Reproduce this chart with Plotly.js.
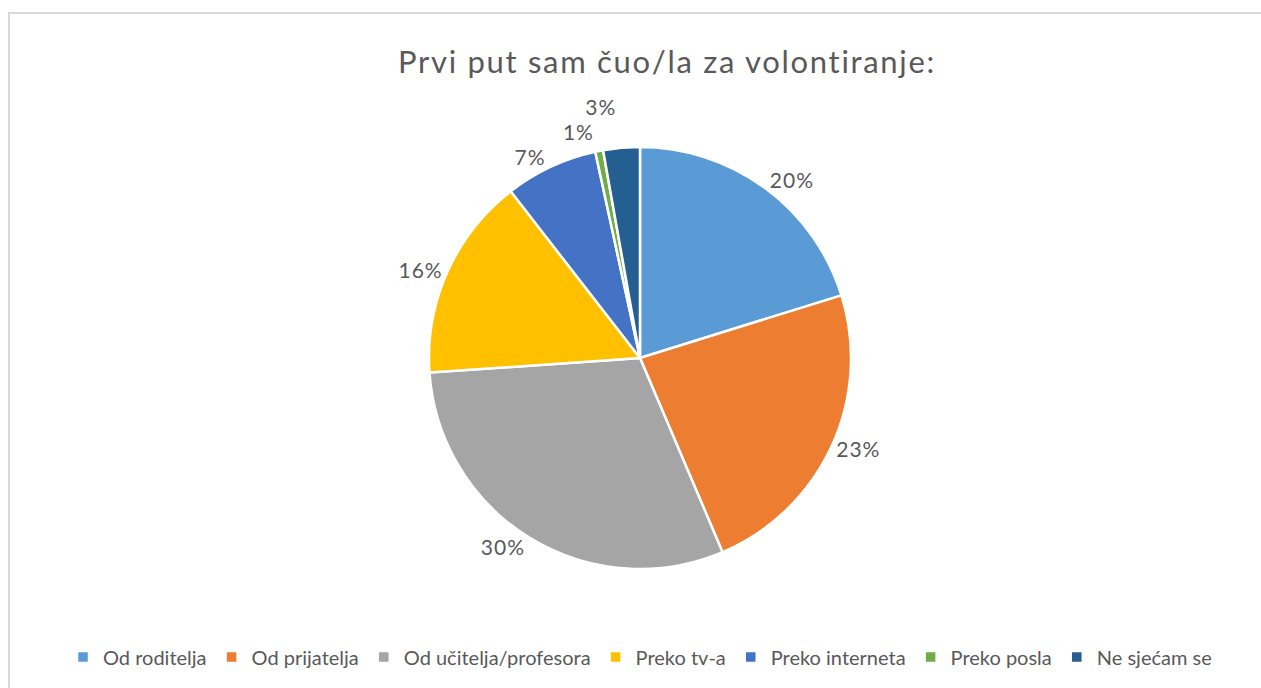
<!DOCTYPE html>
<html><head><meta charset="utf-8">
<script src="https://cdn.plot.ly/plotly-3.0.1.min.js"></script>
<style>
html,body{margin:0;padding:0;background:#fff;overflow:hidden;}
#frame{position:absolute;left:8px;top:12px;width:1270px;height:700px;border:2px solid #d9d9d9;box-sizing:border-box;}
#chart{position:absolute;left:0;top:0;width:1261px;height:688px;}
#chart .gtitle{letter-spacing:1.7px;}
#chart .slicetext{letter-spacing:1px;}
#chart .textline{display:none;}
</style></head>
<body>
<div id="frame"></div>
<div id="chart"></div>
<script>
const categories = ["Od roditelja","Od prijatelja","Od učitelja/profesora","Preko tv-a","Preko interneta","Preko posla","Ne sjećam se"];
const values = [20.2, 23.4, 30.3, 15.6, 7.1, 0.6, 2.8];
const colors = ["#5B9BD5","#ED7D31","#A5A5A5","#FFC000","#4472C4","#70AD47","#255E91"];

const W = 1261, H = 688, cx = 640, cy = 358, r = 211;
const FONT = 'Lato, "Open Sans", sans-serif';
const trace = {
  type: 'pie',
  labels: categories,
  values: values,
  sort: false,
  direction: 'clockwise',
  rotation: 0,
  marker: {colors: colors, line: {color: '#ffffff', width: 2.5}},
  textposition: 'outside',
  texttemplate: '%{percent:.0%}',
  textfont: {family: FONT, size: 21, color: '#595959'},
  hoverinfo: 'label+percent',
  domain: {x: [(cx - r) / W, (cx + r) / W], y: [1 - (cy + r) / H, 1 - (cy - r) / H]},
  automargin: false
};
const layout = {
  width: W, height: H,
  margin: {l: 0, r: 0, t: 0, b: 0},
  paper_bgcolor: 'rgba(0,0,0,0)',
  plot_bgcolor: 'rgba(0,0,0,0)',
  font: {family: FONT, color: '#595959'},
  title: {text: 'Prvi put sam čuo/la za volontiranje:', x: 667 / W, xanchor: 'center', xref: 'container', y: 1 - 62 / H, yref: 'container', yanchor: 'middle',
          font: {family: FONT, size: 31, color: '#595959'}},
  showlegend: true,
  legend: {orientation: 'h', x: 640 / W, xanchor: 'center', xref: 'paper', y: 1 - 657 / H, yref: 'paper', yanchor: 'middle',
           font: {family: FONT, size: 20, color: '#595959'}, itemwidth: 30, traceorder: 'normal', bgcolor: 'rgba(0,0,0,0)'}
};
Plotly.newPlot('chart', [trace], layout, {displayModeBar: false, staticPlot: true});
</script>
</body></html>
